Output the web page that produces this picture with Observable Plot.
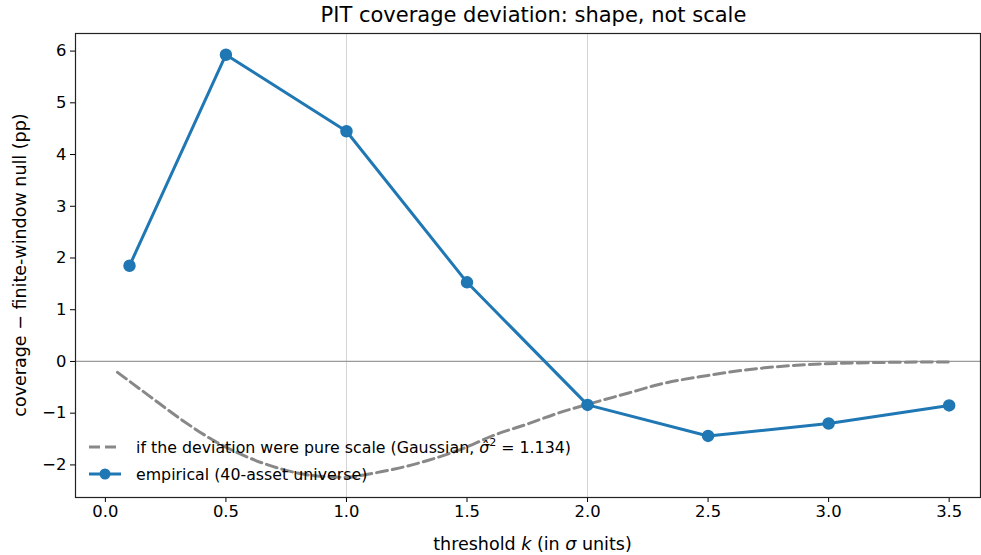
<!DOCTYPE html>
<html>
<head>
<meta charset="utf-8">
<script src="https://cdn.jsdelivr.net/npm/d3@7"></script>
<script src="https://cdn.jsdelivr.net/npm/@observablehq/plot@0.6"></script>
<style>
  html, body { margin: 0; padding: 0; background: #fff; }
  svg { font-family: "DejaVu Sans", sans-serif; }
</style>
</head>
<body>
<div id="chart"></div>
<script>
// Empirical deviation (pp)
const kEmp = [0.1, 0.5, 1.0, 1.5, 2.0, 2.5, 3.0, 3.5];
const devEmp = [1.85, 5.93, 4.45, 1.53, -0.84, -1.44, -1.20, -0.85];

// Pure-scale (Gaussian) reference curve
const kScale = [0.05, 0.18, 0.32, 0.45, 0.59, 0.73, 0.87, 1.0, 1.1, 1.2, 1.34, 1.48, 1.61, 1.75, 1.89, 2.0, 2.17, 2.3, 2.5, 2.7, 2.9, 3.1, 3.3, 3.5];
const devScale = [-0.21, -0.66, -1.14, -1.53, -1.85, -2.08, -2.21, -2.24, -2.17, -2.08, -1.91, -1.69, -1.43, -1.21, -0.98, -0.83, -0.61, -0.44, -0.27, -0.14, -0.065, -0.03, -0.015, -0.01];

const xTicks = [0, 0.5, 1.0, 1.5, 2.0, 2.5, 3.0, 3.5];
const yTicks = [-2, -1, 0, 1, 2, 3, 4, 5, 6];
const gridX = [1.0, 2.0];

const emp = kEmp.map((k, i) => ({k, v: devEmp[i]}));
const scl = kScale.map((k, i) => ({k, v: devScale[i]}));

const fmtY = d => (d < 0 ? "\u2212" + Math.abs(d) : String(d));

const W = 981, H = 555;
const plot = Plot.plot({
  width: W, height: H,
  marginTop: 33, marginBottom: 58, marginLeft: 75, marginRight: 1,
  style: {fontFamily: "DejaVu Sans, sans-serif", fontSize: "16.4px", color: "#000", background: "#fff"},
  x: {domain: [-0.124, 3.63], label: null},
  y: {domain: [-2.63, 6.34], label: null},
  marks: [
    Plot.ruleX(gridX, {stroke: "#d4d4d4", strokeWidth: 1}),
    Plot.ruleY([0], {stroke: "#999", strokeWidth: 1.2}),
    Plot.line(scl, {x: "k", y: "v", stroke: "#888", strokeWidth: 3, strokeDasharray: "11,5", curve: "monotone-x"}),
    Plot.line(emp, {x: "k", y: "v", stroke: "#1f77b4", strokeWidth: 3}),
    Plot.dot(emp, {x: "k", y: "v", r: 5.5, fill: "#1f77b4", stroke: "#1f77b4"}),
    Plot.axisX({ticks: xTicks, tickFormat: d => d.toFixed(1), tickSize: 5, tickPadding: 3, fontSize: 16.4, stroke: "#000", label: null}),
    Plot.axisY({ticks: yTicks, tickFormat: fmtY, tickSize: 5, tickPadding: 4, fontSize: 16.4, stroke: "#000", label: null}),
    Plot.frame({stroke: "#222", strokeWidth: 1.2})
  ]
});
document.getElementById("chart").appendChild(plot);

const svg = d3.select(plot);
const xr = plot.scale("x").range;
const yr = plot.scale("y").range;
const cx = (xr[0] + xr[1]) / 2;

// Title
svg.append("text").attr("x", cx + 6).attr("y", 22).attr("text-anchor", "middle")
  .attr("font-size", "21px").attr("fill", "#000")
  .text("PIT coverage deviation: shape, not scale");

// X label
const xl = svg.append("text").attr("x", cx + 5).attr("y", 550).attr("text-anchor", "middle")
  .attr("font-size", "17.5px").attr("fill", "#000");
xl.append("tspan").text("threshold ");
xl.append("tspan").attr("font-style", "italic").text("k");
xl.append("tspan").text(" (in ");
xl.append("tspan").attr("font-style", "italic").text("σ");
xl.append("tspan").text(" units)");

// Y label
const cy = (yr[0] + yr[1]) / 2;
svg.append("text").attr("transform", `translate(26,${cy}) rotate(-90)`).attr("text-anchor", "middle")
  .attr("font-size", "17.5px").attr("fill", "#000")
  .text("coverage \u2212 finite-window null (pp)");

// Legend
const lg = svg.append("g").attr("text-anchor", "start");
const lx0 = 89, lx1 = 121, ly1 = 447, ly2 = 474, tx = 136;
lg.append("line").attr("x1", lx0).attr("x2", lx1).attr("y1", ly1).attr("y2", ly1)
  .attr("stroke", "#888").attr("stroke-width", 3).attr("stroke-dasharray", "11,5");
const t1 = lg.append("text").attr("x", tx).attr("y", ly1 + 6).attr("text-anchor", "start")
  .attr("font-size", "15.8px").attr("fill", "#000");
t1.append("tspan").text("if the deviation were pure scale (Gaussian, ");
t1.append("tspan").attr("font-style", "italic").text("σ\u0302");
t1.append("tspan").attr("font-size", "11px").attr("dy", -7).text("2");
t1.append("tspan").attr("dy", 7).text(" = 1.134)");
lg.append("line").attr("x1", lx0).attr("x2", lx1).attr("y1", ly2).attr("y2", ly2)
  .attr("stroke", "#1f77b4").attr("stroke-width", 3);
lg.append("circle").attr("cx", (lx0 + lx1) / 2).attr("cy", ly2).attr("r", 5.5).attr("fill", "#1f77b4");
lg.append("text").attr("x", tx).attr("y", ly2 + 6).attr("text-anchor", "start")
  .attr("font-size", "15.8px").attr("fill", "#000")
  .text("empirical (40-asset universe)");
</script>
</body>
</html>
